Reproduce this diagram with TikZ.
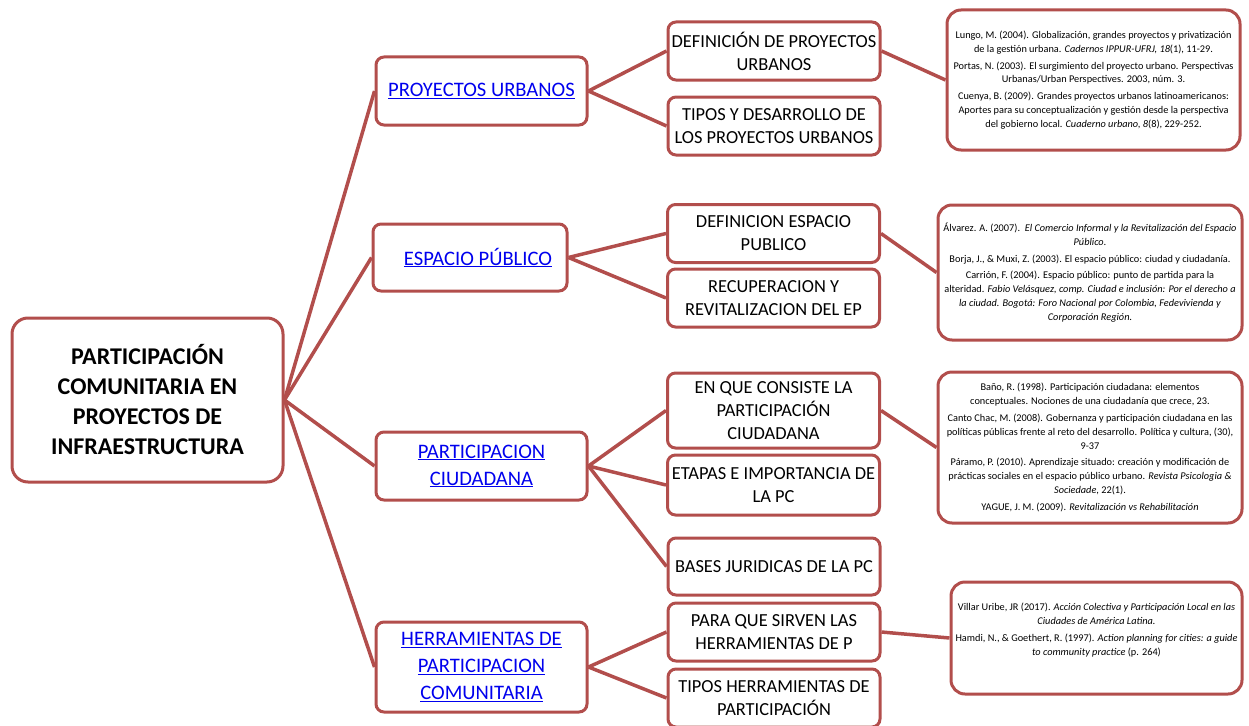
\documentclass[tikz,border=0pt]{standalone}
\usepackage{fontspec}
\setmainfont{Carlito}
\definecolor{bord}{RGB}{178,78,76}
\definecolor{lnk}{RGB}{0,0,238}
\newcommand{\lk}[1]{\textcolor{lnk}{\underline{#1}}}
\tikzset{
  box/.style={draw=bord, line width=3pt, rounded corners=8pt, fill=white, align=center, inner sep=0pt},
  mainbox/.style={box, rounded corners=16pt, minimum width=271pt, minimum height=164pt, font=\fontsize{24}{30}\selectfont\bfseries},
  lvone/.style={box, minimum width=211pt, font=\fontsize{20.6}{27}\selectfont},
  lvtwo/.style={box, minimum width=212pt, minimum height=58pt, font=\fontsize{18.4}{23}\selectfont},
  refbox/.style={box, rounded corners=14pt, font=\fontsize{10.3}{13.8}\selectfont},
  conn/.style={draw=bord, line width=3.5pt},
}
\begin{document}
\begin{tikzpicture}[x=1pt,y=-1pt]
\useasboundingbox (0,0) rectangle (1249,725);
% nodes
\node[mainbox] (main) at (147.5,400) {PARTICIPACIÓN\\COMUNITARIA EN\\PROYECTOS DE\\INFRAESTRUCTURA};

\node[lvone, minimum height=68pt] (pu) at (481.5,91) {\lk{PROYECTOS URBANOS}};
\node[lvone, minimum width=194pt, minimum height=67pt] (ep) at (470,257.5) {\hspace*{16pt}\lk{ESPACIO PÚBLICO}};
\node[lvone, minimum height=68pt] (pc) at (481.5,466) {\lk{PARTICIPACION}\\\lk{CIUDADANA}};
\node[lvone, minimum height=90pt] (hp) at (481.5,667) {\lk{HERRAMIENTAS DE}\\\lk{PARTICIPACION}\\\lk{COMUNITARIA}};

\node[lvtwo] (dpu) at (774,51) {DEFINICIÓN DE PROYECTOS\\URBANOS};
\node[lvtwo] (tdpu) at (774,126) {TIPOS Y DESARROLLO DE\\LOS PROYECTOS URBANOS};
\node[lvtwo] (dep) at (773.5,233.5) {DEFINICION ESPACIO\\PUBLICO};
\node[lvtwo] (rrep) at (773.5,298) {RECUPERACION Y\\REVITALIZACION DEL EP};
\node[lvtwo, minimum height=75pt] (ecpc) at (773.5,410.5) {EN QUE CONSISTE LA\\PARTICIPACIÓN\\CIUDADANA};
\node[lvtwo, minimum height=60pt] (eipc) at (773.5,485) {ETAPAS E IMPORTANCIA DE\\LA PC};
\node[lvtwo, minimum height=57pt] (bjpc) at (774,566.5) {BASES JURIDICAS DE LA PC};
\node[lvtwo] (pshp) at (774,632) {PARA QUE SIRVEN LAS\\HERRAMIENTAS DE P};
\node[lvtwo] (thp) at (774,698) {TIPOS HERRAMIENTAS DE\\PARTICIPACIÓN};

\node[refbox, minimum width=293pt, minimum height=140pt] (ra) at (1093.5,80) {%
Lungo, M. (2004). Globalización, grandes proyectos y privatización\\
de la gestión urbana. \textit{Cadernos IPPUR-UFRJ, 18}(1), 11-29.\\[3pt]
Portas, N. (2003). El surgimiento del proyecto urbano. Perspectivas\\
Urbanas/Urban Perspectives. 2003, núm. 3.\\[3pt]
Cuenya, B. (2009). Grandes proyectos urbanos latinoamericanos:\\
Aportes para su conceptualización y gestión desde la perspectiva\\
del gobierno local. \textit{Cuaderno urbano, 8}(8), 229-252.};

\node[refbox, minimum width=304pt, minimum height=135pt] (rb) at (1090,272.5) {%
Álvarez. A. (2007).\ \ \textit{El Comercio Informal y la Revitalización del Espacio}\\
\textit{Público.}\\[3pt]
Borja, J., \& Muxi, Z. (2003). El espacio público: ciudad y ciudadanía.\\[3pt]
Carrión, F. (2004). Espacio público: punto de partida para la\\
alteridad. \textit{Fabio Velásquez, comp. Ciudad e inclusión: Por el derecho a}\\
\textit{la ciudad. Bogotá: Foro Nacional por Colombia, Fedevivienda y}\\
\textit{Corporación Región.}};

\node[refbox, minimum width=304pt, minimum height=151pt] (rc) at (1090,447.5) {%
Baño, R. (1998). Participación ciudadana: elementos\\
conceptuales. Nociones de una ciudadanía que crece, 23.\\[3pt]
Canto Chac, M. (2008). Gobernanza y participación ciudadana en las\\
políticas públicas frente al reto del desarrollo. Política y cultura, (30),\\
9-37\\[3pt]
Páramo, P. (2010). Aprendizaje situado: creación y modificación de\\
prácticas sociales en el espacio público urbano. \textit{Revista Psicologia \&}\\
\textit{Sociedade}, 22(1).\\[3pt]
YAGUE, J. M. (2009). \textit{Revitalización vs Rehabilitación}};

\node[refbox, minimum width=291pt, minimum height=112pt] (rd) at (1096.5,638) {%
Villar Uribe, JR (2017). \textit{Acción Colectiva y Participación Local en las}\\
\textit{Ciudades de América Latina.}\\[3pt]
Hamdi, N., \& Goethert, R. (1997). \textit{Action planning for cities: a guide}\\
\textit{to community practice} (p. 264)\\[4pt]};

% connectors
\foreach \t in {pu,ep,pc,hp}{\draw[conn] (main.east) -- (\t.west);}
\draw[conn] (pu.east) -- (dpu.west);
\draw[conn] (pu.east) -- (tdpu.west);
\draw[conn] (ep.east) -- (dep.west);
\draw[conn] (ep.east) -- (rrep.west);
\draw[conn] (pc.east) -- (ecpc.west);
\draw[conn] (pc.east) -- (eipc.west);
\draw[conn] (pc.east) -- (bjpc.west);
\draw[conn] (hp.east) -- (pshp.west);
\draw[conn] (hp.east) -- (thp.west);
\draw[conn] (dpu.east) -- (ra.west);
\draw[conn] (dep.east) -- (rb.west);
\draw[conn] (ecpc.east) -- (rc.west);
\draw[conn] (pshp.east) -- (rd.west);
\end{tikzpicture}
\end{document}
